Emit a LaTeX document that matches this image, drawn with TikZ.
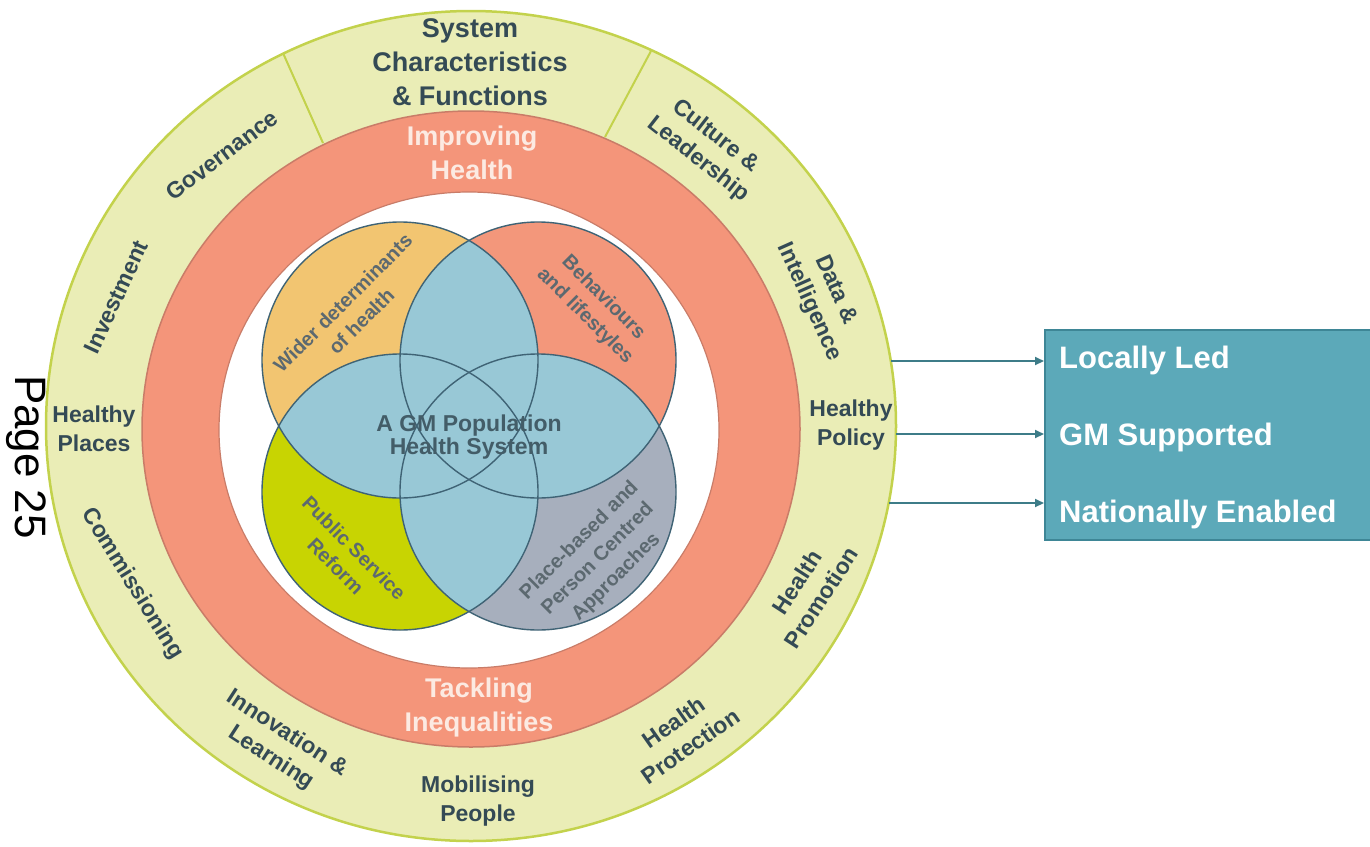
\documentclass[tikz,border=0pt]{standalone}
\usepackage{fontspec}
\setmainfont{Liberation Sans}
\usetikzlibrary{arrows.meta}
\definecolor{ringfill}{HTML}{EAEDB6}
\definecolor{ringedge}{HTML}{C3D24C}
\definecolor{redfill}{HTML}{F4957A}
\definecolor{rededge}{HTML}{C97C68}
\definecolor{vblue}{HTML}{98C8D6}
\definecolor{vorange}{HTML}{F2C571}
\definecolor{vsalmon}{HTML}{F3977B}
\definecolor{vlime}{HTML}{C8D402}
\definecolor{vgrey}{HTML}{A7AFBD}
\definecolor{vedge}{HTML}{3F6375}
\definecolor{txtdark}{HTML}{344A55}
\definecolor{txtvenn}{HTML}{5C6970}
\definecolor{txtpale}{HTML}{FCEAE2}
\definecolor{boxfill}{HTML}{5CA9B9}
\definecolor{boxedge}{HTML}{3E8696}
\definecolor{arrowcol}{HTML}{3D7C88}

\begin{document}
\begin{tikzpicture}[x=1pt,y=-1pt,
  ringlabel/.style={font=\bfseries\fontsize{23}{29}\selectfont, text=txtdark, align=center, inner sep=0pt},
  headlabel/.style={font=\bfseries\fontsize{27}{34}\selectfont, align=center, inner sep=0pt},
  vennlabel/.style={font=\bfseries\fontsize{20}{26}\selectfont, text=txtvenn, align=center, inner sep=0pt},
  corelabel/.style={font=\bfseries\fontsize{23}{23.5}\selectfont, text=txtdark!85!vblue, align=center, inner sep=0pt},
  boxlabel/.style={font=\bfseries\fontsize{31}{36}\selectfont, text=white, anchor=base west, inner sep=0pt},
  vennring/.style={draw=vedge, line width=1.4pt},
  divider/.style={draw=ringedge, line width=2pt},
  link/.style={draw=arrowcol, line width=2pt, -{Triangle[length=9pt,width=8pt]}},
  outcome/.style={draw=boxedge, line width=2pt, fill=boxfill, anchor=north west,
    minimum width=326pt, minimum height=210pt, inner sep=0pt},
]
\useasboundingbox (0,0) rectangle (1370,846);

% ---- outer ring, red ring and white core ----
\fill[ringfill, draw=ringedge, line width=2.5pt] (471,426) ellipse [x radius=425pt, y radius=415pt];
\draw[divider] (283,53) -- (323,143);
\draw[divider] (651,51) -- (605,137);
\fill[redfill, draw=rededge, line width=1.5pt] (471,429) ellipse [x radius=329pt, y radius=318pt];
\fill[white, draw=rededge, line width=1.2pt] (469,430) ellipse [x radius=250pt, y radius=238pt];

% ---- four-way Venn ----
\coordinate (vA) at (400,360);
\coordinate (vB) at (538,360);
\coordinate (vC) at (400,492);
\coordinate (vD) at (538,492);
\fill[vorange] (vA) circle [radius=138pt];
\fill[vsalmon] (vB) circle [radius=138pt];
\fill[vlime]   (vC) circle [radius=138pt];
\fill[vgrey]   (vD) circle [radius=138pt];
\begin{scope}\clip (vA) circle [radius=138pt];
  \fill[vblue] (vB) circle [radius=138pt];
  \fill[vblue] (vC) circle [radius=138pt];
  \fill[vblue] (vD) circle [radius=138pt];
\end{scope}
\begin{scope}\clip (vB) circle [radius=138pt];
  \fill[vblue] (vC) circle [radius=138pt];
  \fill[vblue] (vD) circle [radius=138pt];
\end{scope}
\begin{scope}\clip (vC) circle [radius=138pt];
  \fill[vblue] (vD) circle [radius=138pt];
\end{scope}
\foreach \c in {vA,vB,vC,vD} \draw[vennring] (\c) circle [radius=138pt];

\node[vennlabel, rotate=45]  (wider) at (352,312) {Wider determinants\\of health};
\node[vennlabel, rotate=-45] (behav) at (594,307) {Behaviours\\and lifestyles};
\node[vennlabel, rotate=-45] (psr)   at (345,557) {Public Service\\Reform};
\node[vennlabel, rotate=45]  (place) at (598,559) {Place-based and\\Person Centred\\Approaches};
\node[corelabel] (core) at (469,437) {A GM Population\\Health System};

% ---- red ring captions ----
\node[headlabel, text=txtpale] (improve) at (472,153) {Improving\\Health};
\node[headlabel, text=txtpale] (tackle)  at (479,708) {Tackling\\Inequalities};

% ---- outer ring captions ----
\node[headlabel, text=txtdark] (system) at (470,62) {System\\Characteristics\\\& Functions};
\node[ringlabel, rotate=37]  (gov)     at (222,155) {Governance};
\node[ringlabel, rotate=65]  (invest)  at (116,297) {Investment};
\node[ringlabel]             (hplaces) at (94,429)  {Healthy\\Places};
\node[ringlabel, rotate=-58] (commiss) at (132,584) {Commissioning};
\node[ringlabel, rotate=-33] (innov)   at (279,746) {Innovation \&\\Learning};
\node[ringlabel]             (mobil)   at (478,801) {Mobilising\\People};
\node[ringlabel, rotate=35]  (hprot)   at (682,734) {Health\\Protection};
\node[ringlabel, rotate=57]  (hpromo)  at (809,590) {Health\\Promotion};
\node[ringlabel]             (hpolicy) at (851,425) {Healthy\\Policy};
\node[ringlabel, rotate=-66] (data)    at (822,296) {Data \&\\Intelligence};
\node[ringlabel, rotate=-38] (culture) at (707,148) {Culture \&\\Leadership};

% ---- page marker ----
\node[font=\fontsize{44}{44}\selectfont, inner sep=0pt, rotate=-90] (page) at (26,457) {Page 25};

% ---- outcome box and links ----
\node[outcome] (box) at (1044,329) {};
\node[boxlabel] (led)  at (1059,368) {Locally Led};
\node[boxlabel] (supp) at (1059,445) {GM Supported};
\node[boxlabel] (nat)  at (1059,522) {Nationally Enabled};
\coordinate (s1) at (891,361);
\coordinate (s2) at (896,434);
\coordinate (s3) at (889,503);
\draw[link] (s1) -- (s1 -| box.west);
\draw[link] (s2) -- (s2 -| box.west);
\draw[link] (s3) -- (s3 -| box.west);
\end{tikzpicture}
\end{document}
